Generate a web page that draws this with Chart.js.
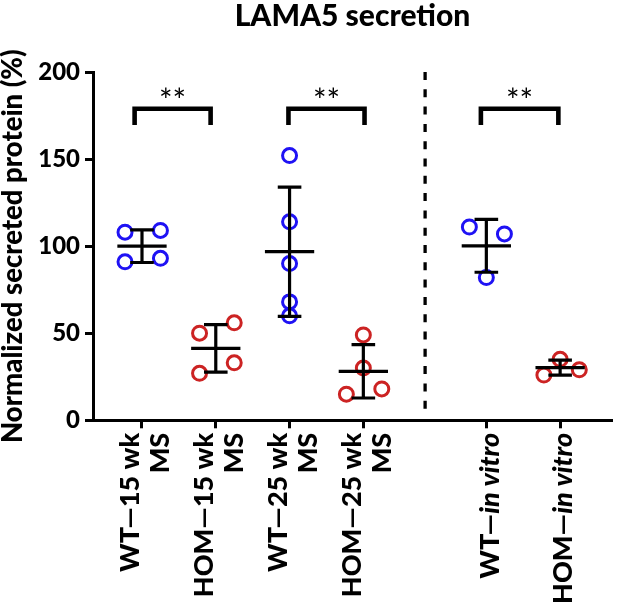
<!DOCTYPE html>
<html><head><meta charset="utf-8">
<script src="https://cdn.jsdelivr.net/npm/chart.js@4/dist/chart.umd.min.js"></script>
<style>html,body{margin:0;padding:0;background:#fff}canvas{display:block}</style>
</head><body>
<canvas id="c" width="622" height="614"></canvas>
<script>
// ---------- data ----------
const chartTitle = "LAMA5 secretion";
const yTitle = "Normalized secreted protein (%)";
const categories = [["WT—15 wk","MS"],["HOM—15 wk","MS"],["WT—25 wk","MS"],["HOM—25 wk","MS"],["WT—_in vitro_"],["HOM—_in vitro_"]];
const groupX = [1, 2, 3, 4, 5.667, 6.667];
const genotype = ["WT","HOM","WT","HOM","WT","HOM"];
const wt15  = [108, 109, 91, 93];
const hom15 = [50, 56, 27, 33];
const wt25  = [152, 114, 90, 68, 60];
const hom25 = [49, 30, 15, 18];
const wtIv  = [111, 107, 82];
const homIv = [35, 26, 29];
const groupValues = [wt15, hom15, wt25, hom25, wtIv, homIv];
const jitter = [[-0.23,0.25,-0.23,0.25],[-0.22,0.25,-0.22,0.25],[0,0,0,0,0],[0,0,-0.23,0.25],[-0.23,0.245,0],[0,-0.22,0.26]];
const means = [100, 41.3, 96.8, 28.1, 100.2, 30.2];
const sds   = [9.4, 13.6, 37.1, 15.3, 15.2, 4.3];
const yTicks = [0, 50, 100, 150, 200];
const brackets = [[0.90, 1.93], [2.985, 4.016], [5.593, 6.643]];
const bracketLow = 169.5, bracketHigh = 178.9;
const sigLabels = ["**", "**", "**"];
const sigY = 182.7;
const dividerX = 4.837;
const dividerRange = [200, 4];

// ---------- styling ----------
const BLUE = '#1f12f4', RED = '#cc2323', BLACK = '#000';
const FONT = 'Lato';
const W = '900';
const meanHalf = 0.334, capHalf = 0.16;

const datasets = [];
['WT','HOM'].forEach(g => {
  const pts = [];
  groupValues.forEach((vals, i) => {
    if (genotype[i] !== g) return;
    vals.forEach((v, k) => pts.push({x: groupX[i] + jitter[i][k], y: v}));
  });
  datasets.push({label: g, data: pts, showLine: false, pointStyle: 'circle', pointRadius: 7,
    pointHoverRadius: 7, pointBorderWidth: 3, pointBackgroundColor: 'rgba(0,0,0,0)',
    pointBorderColor: g === 'WT' ? BLUE : RED, borderColor: g === 'WT' ? BLUE : RED, order: 2});
});
groupX.forEach((x, i) => {
  const m = means[i], s = sds[i];
  const gap = {x: x, y: null};
  datasets.push({label: 'err' + i, data: [
    {x: x - meanHalf, y: m}, {x: x + meanHalf, y: m}, gap,
    {x: x, y: m - s}, {x: x, y: m + s}, gap,
    {x: x - capHalf, y: m + s}, {x: x + capHalf, y: m + s}, gap,
    {x: x - capHalf, y: m - s}, {x: x + capHalf, y: m - s}],
    showLine: true, spanGaps: false, borderColor: BLACK, borderWidth: 3.2, pointRadius: 0,
    borderCapStyle: 'butt', order: 1});
});
brackets.forEach((b, i) => {
  datasets.push({label: 'br' + i, data: [
    {x: b[0], y: bracketLow}, {x: b[0], y: bracketHigh}, {x: b[1], y: bracketHigh}, {x: b[1], y: bracketLow}],
    showLine: true, borderColor: BLACK, borderWidth: 4.6, pointRadius: 0, borderJoinStyle: 'miter',
    borderCapStyle: 'butt', order: 1});
});
datasets.push({label: 'divider', data: [{x: dividerX, y: dividerRange[0]}, {x: dividerX, y: dividerRange[1]}],
  showLine: true, borderColor: BLACK, borderWidth: 3.3, borderDash: [8, 9.3], pointRadius: 0, order: 1});

const textPlugin = {
  id: 'texts',
  afterDatasetsDraw(chart) {
    const ctx = chart.ctx, xs = chart.scales.x, ys = chart.scales.y;
    ctx.save();
    ctx.fillStyle = BLACK;
    ctx.font = `normal 32px ${FONT}`;
    ctx.textAlign = 'center';
    ctx.textBaseline = 'middle';
    brackets.forEach((b, i) => {
      ctx.fillText(sigLabels[i], xs.getPixelForValue((b[0] + b[1]) / 2), ys.getPixelForValue(sigY));
    });
    ctx.restore();
  },
  afterDraw(chart) {
    const ctx = chart.ctx, xs = chart.scales.x;
    const top = chart.chartArea.bottom + 12.5;
    const lineGap = 30, blockShift = 3.5;
    ctx.save();
    ctx.fillStyle = BLACK;
    ctx.textBaseline = 'middle';
    ctx.textAlign = 'left';
    categories.forEach((lines, i) => {
      const px = xs.getPixelForValue(groupX[i]);
      lines.forEach((line, j) => {
        const off = blockShift + (j - (lines.length - 1) / 2) * lineGap;
        const segs = line.split('_').map((t, k) => ({t, it: k % 2 === 1})).filter(s => s.t);
        let total = 0;
        segs.forEach(s => { ctx.font = `${s.it ? 'italic ' : ''}${W} 27px ${FONT}`; s.w = ctx.measureText(s.t).width; total += s.w; });
        ctx.save();
        ctx.translate(px + off, top);
        ctx.rotate(-Math.PI / 2);
        let cx = -total;
        segs.forEach(s => { ctx.font = `${s.it ? 'italic ' : ''}${W} 27px ${FONT}`; ctx.fillText(s.t, cx, 0); cx += s.w; });
        ctx.restore();
      });
    });
    ctx.restore();
  }
};

new Chart(document.getElementById('c'), {
  type: 'line',
  data: {datasets},
  plugins: [textPlugin],
  options: {
    responsive: false, animation: false,
    layout: {padding: {top: 0, left: 0, right: 2, bottom: 185.7}},
    plugins: {
      legend: {display: false}, tooltip: {enabled: false},
      title: {display: true, text: chartTitle, fullSize: false, color: BLACK,
        font: {family: FONT, size: 30, weight: W, lineHeight: 1.1}, padding: {top: 0, bottom: 39}}
    },
    scales: {
      x: {type: 'linear', min: 0.336, max: 7.37,
        afterBuildTicks: (a) => { a.ticks = groupX.map(v => ({value: v})); },
        ticks: {display: false},
        grid: {drawOnChartArea: false, drawTicks: true, tickLength: 8, tickWidth: 3, color: BLACK},
        border: {display: true, color: BLACK, width: 3}},
      y: {type: 'linear', min: 0, max: 200,
        afterBuildTicks: (a) => { a.ticks = yTicks.map(v => ({value: v})); },
        afterFit: (a) => { a.width = 93; },
        ticks: {color: BLACK, padding: 5, font: {family: FONT, size: 24, weight: W}},
        grid: {drawOnChartArea: false, drawTicks: true, tickLength: 8, tickWidth: 3, color: BLACK},
        border: {display: true, color: BLACK, width: 3},
        title: {display: true, text: yTitle, color: BLACK, padding: {top: -1, bottom: 0},
          font: {family: FONT, size: 27.5, weight: W, lineHeight: 1.0}}}
    }
  }
});
</script>
</body></html>
